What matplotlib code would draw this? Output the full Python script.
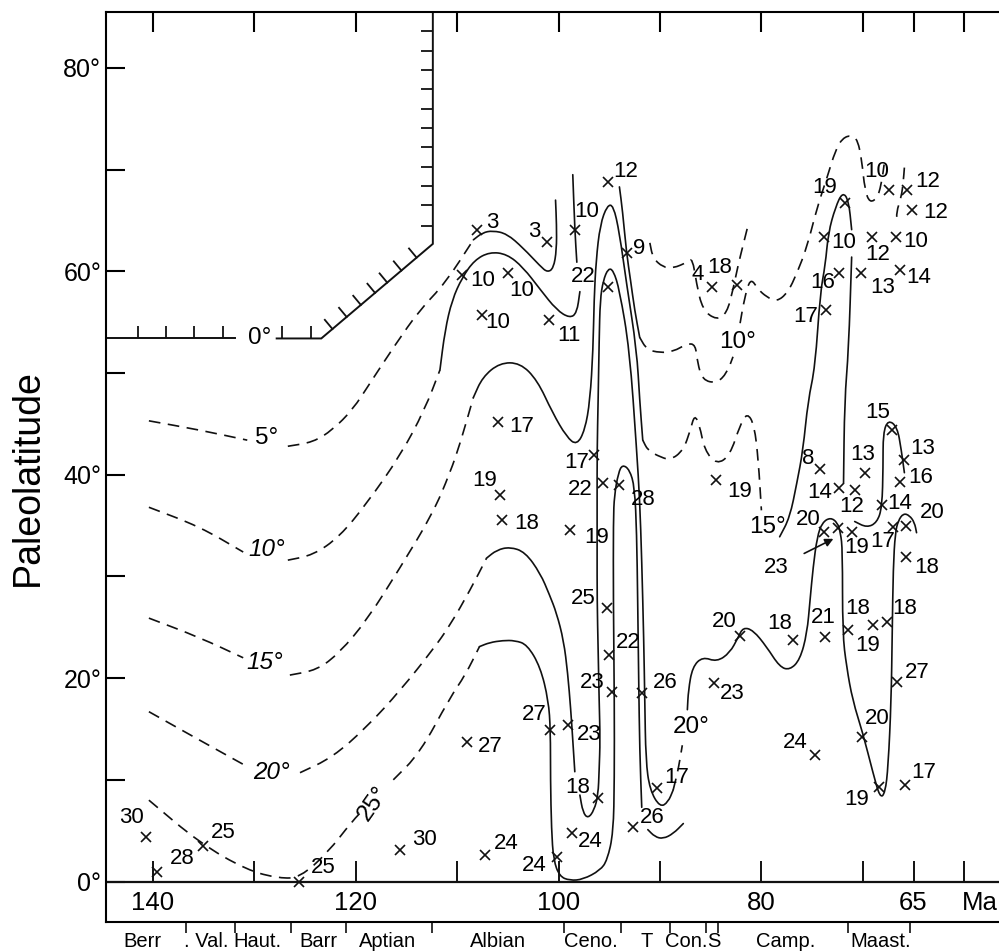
import matplotlib
matplotlib.use('Agg')
import matplotlib.pyplot as plt
from matplotlib.path import Path
from matplotlib.patches import PathPatch
import numpy as np

plt.rcParams['font.family'] = ['Liberation Sans', 'DejaVu Sans']

# axis ranges (Ma on x, reversed; paleolatitude on y)
ma_range = (144.63, 56.57)
lat_range = (-3.98, 85.47)

x_ticks = [140, 130, 120, 110, 100, 90, 80, 70, 65, 60]
x_labels = [140, 120, 100, 80, 65]
y_major = [0, 20, 40, 60, 80]
y_minor = [10, 30, 50, 70]

# stages (boundaries in Ma, label centres in Ma)
stage_bounds = [136.7, 131.9, 126.4, 121.0, 112.5, 99.5, 93.8, 89.0, 85.5, 84.3, 71.5, 65.3]
stage_names = ['Berr', '. Val.', 'Haut.', 'Barr', 'Aptian', 'Albian', 'Ceno.', 'T', 'Con.', 'S', 'Camp.', 'Maast.']
stage_pos = [141.0, 134.7, 129.7, 123.7, 116.9, 106.0, 96.8, 91.3, 87.4, 84.7, 77.6, 68.2]

# localities: age (Ma), paleolatitude, temperature label
pts_ma = [140.7, 139.6, 135.1, 125.6, 115.6, 109.0, 107.3, 100.2, 98.7, 100.8, 99.1, 96.1, 92.7, 90.3,
          105.8, 105.6, 96.5, 95.6, 94.0, 98.9, 95.2, 95.0, 94.7, 91.8, 82.1, 84.7,
          74.2, 69.8, 72.3, 70.8, 67.1, 65.9, 66.3, 68.1, 65.7, 67.0, 71.1, 73.8, 72.4, 65.7,
          84.5, 76.9, 73.7, 71.5, 69.0, 67.6, 66.6, 70.1, 74.7, 68.4, 65.8,
          71.8, 67.4, 65.6, 65.1, 73.8, 69.1, 66.7, 72.3, 70.2, 66.3, 73.6, 82.4, 84.9,
          108.0, 101.1, 98.4, 95.1, 93.3, 109.5, 105.0, 107.6, 100.9, 95.1, 106.0]
pts_lat = [4.4, 0.9, 3.5, -0.05, 3.1, 13.7, 2.6, 2.4, 4.8, 14.9, 15.4, 8.2, 5.4, 9.2,
           38.0, 35.5, 41.9, 39.2, 39.0, 34.6, 26.9, 22.3, 18.6, 18.5, 24.1, 19.5,
           40.6, 40.2, 38.7, 38.5, 44.4, 41.4, 39.3, 37.0, 35.0, 34.9, 34.4, 34.4, 34.8, 31.9,
           39.5, 23.7, 24.0, 24.7, 25.2, 25.5, 19.6, 14.2, 12.4, 9.3, 9.5,
           66.7, 68.0, 68.0, 66.0, 63.4, 63.4, 63.4, 59.8, 59.8, 60.1, 56.2, 58.7, 58.5,
           64.1, 62.9, 64.1, 68.8, 61.8, 59.6, 59.8, 55.7, 55.2, 58.5, 45.2]
pts_val = ['30', '28', '25', '25', '30', '27', '24', '24', '24', '27', '23', '18', '26', '17',
           '19', '18', '17', '22', '28', '19', '25', '22', '23', '26', '20', '23',
           '8', '13', '14', '12', '15', '13', '16', '14', '20', '17', '19', '20', '', '18',
           '19', '18', '21', '18', '19', '18', '27', '20', '24', '19', '17',
           '19', '10', '12', '12', '10', '12', '10', '16', '13', '14', '17', '18', '4',
           '3', '3', '10', '12', '9', '10', '10', '10', '11', '22', '17']
# where each number sits relative to its cross (pixels, right / down)
label_offsets = [(-14, -19), (25, -14), (21, -13), (24, -15), (24, -10), (23, 4), (22, -12), (-22, 8),
                 (18, 9), (-16, -15), (22, 10), (-20, -11), (20, -9), (20, -10),
                 (-15, -15), (25, 3), (-17, 7), (-23, 7), (24, 15), (27, 8), (-24, -9), (19, -12),
                 (-20, -10), (24, -11), (-16, -15), (19, 10),
                 (-12, -10), (-2, -18), (-20, 5), (-3, 17), (-15, -17), (18, -12), (20, -4), (18, -2),
                 (26, -13), (-11, 15), (5, 16), (-16, -12), (0, 0), (20, 10),
                 (24, 12), (-13, -17), (-2, -20), (10, -22), (-5, 20), (18, -14), (20, -10), (15, -19),
                 (-20, -13), (-22, 13), (18, -12),
                 (-20, -16), (-12, -18), (20, -8), (23, 2), (19, 6), (6, 18), (19, 5), (-17, 9),
                 (22, 14), (18, 7), (-21, 7), (-17, -17), (-14, -12),
                 (15, -7), (-13, -10), (12, -18), (17, -10), (13, -5), (20, 5), (14, 17), (16, 7),
                 (19, 15), (-25, -10), (24, 5)]

# isotherms, (Ma, lat) vertices
iso5_dash_a = [(140.4, 45.3), (135.4, 44.4), (130.7, 43.4)]
iso5_dash_b = [(126.7, 42.8), (124.2, 43.2), (122.3, 44.4), (120.3, 46.4), (118.6, 49.0), (116.1, 52.8),
               (113.7, 56.2), (111.2, 58.8), (108.4, 63.1)]
iso5_solid = [(108.4, 63.1), (107.5, 63.8), (106.5, 64.0), (105.1, 63.7), (103.5, 62.3), (101.8, 60.5),
              (101.1, 59.9), (100.5, 60.3), (100.2, 62.1), (100.2, 64.6), (100.3, 67.0)]

iso10_dash_a = [(140.4, 36.8), (135.4, 34.9), (131.1, 32.4)]
iso10_dash_b = [(126.7, 31.6), (124.2, 32.1), (121.6, 33.9), (118.9, 37.2), (115.6, 41.9), (113.2, 46.4),
                (111.7, 50.3)]
iso10_solid = [(111.7, 50.3), (111.2, 54.2), (110.5, 57.2), (109.5, 59.4), (108.3, 61.1), (106.8, 61.9),
               (105.1, 61.7), (103.5, 60.4), (101.8, 58.2), (100.2, 56.2), (98.9, 55.4), (98.2, 55.9),
               (97.9, 58.0)]
iso10_solid_b = [(98.2, 60.9), (98.4, 64.1), (98.6, 69.5)]
iso10_solid_c = [(94.0, 68.3), (93.7, 66.0), (93.3, 61.8), (92.9, 59.1), (92.5, 56.2), (92.0, 53.5)]
iso10_dash_c = [(92.0, 53.5), (91.3, 52.3), (90.0, 52.0), (88.7, 52.1), (87.3, 52.9), (86.5, 52.8),
                (86.3, 51.0), (85.8, 49.3), (84.4, 49.0), (83.4, 50.0), (82.8, 51.6)]
iso10_dash_d = [(82.1, 54.9), (81.7, 57.2), (81.1, 59.4), (80.3, 58.2), (79.5, 57.5), (78.5, 57.0),
                (77.4, 57.9), (76.5, 59.8), (75.5, 62.4), (74.5, 66.3), (73.5, 69.3), (72.7, 71.9),
                (72.0, 73.1), (71.1, 73.4), (70.5, 72.9), (70.1, 70.9), (69.8, 68.0), (69.3, 66.7),
                (68.5, 67.3), (68.1, 69.0), (67.9, 70.5)]
iso10_dash_e = [(65.9, 70.2), (66.0, 68.9), (66.2, 67.3), (66.7, 65.8), (66.6, 64.8)]
iso5_dash_c = [(91.0, 62.8), (90.7, 61.3), (89.7, 60.4), (88.7, 60.3), (87.3, 60.9), (86.8, 61.3),
               (86.4, 58.8), (85.8, 56.2), (84.4, 55.2), (83.4, 55.9), (82.8, 58.2), (82.3, 60.6),
               (81.8, 62.6), (81.3, 64.6)]

iso15_dash_a = [(140.4, 25.9), (135.4, 24.0), (131.1, 22.0)]
iso15_dash_b = [(126.5, 20.3), (123.8, 20.8), (121.6, 22.5), (118.9, 25.7), (115.6, 30.9), (112.4, 36.2),
                (110.7, 40.2), (109.7, 43.1), (108.4, 47.6)]
iso15_solid = [(108.4, 47.6), (107.5, 49.6), (105.8, 51.0), (103.8, 51.0), (102.1, 49.3), (100.6, 46.1),
               (99.2, 43.7), (98.2, 42.9), (97.4, 44.4), (96.9, 47.3), (96.6, 52.3), (96.5, 57.2),
               (96.3, 61.1), (95.9, 64.6), (95.2, 66.5), (94.6, 66.5), (94.0, 63.8), (93.3, 58.8),
               (92.3, 52.3), (92.0, 47.3), (91.7, 43.4)]
iso15_dash_c = [(91.7, 43.4), (91.2, 42.4), (90.3, 41.9), (89.0, 41.4), (87.7, 42.4), (87.0, 44.4),
                (86.6, 45.9), (86.1, 44.9), (85.6, 42.4), (84.4, 41.0), (83.1, 41.9), (82.1, 44.9),
                (81.4, 46.1), (80.7, 44.9), (80.3, 41.4), (80.0, 36.5)]
iso15_solid_c = [(78.2, 33.9), (77.2, 35.8), (76.5, 39.2), (75.9, 42.4), (75.4, 47.3), (74.7, 50.6),
                 (74.2, 57.9), (73.7, 60.6), (73.4, 63.8), (72.7, 66.3), (72.0, 67.8), (71.4, 67.0),
                 (71.1, 64.1)]
iso15_solid_d = [(71.1, 61.4), (71.4, 52.3), (71.8, 47.3), (71.9, 39.2)]
iso15_solid_e = [(70.8, 35.4), (69.6, 34.8), (68.6, 35.3), (68.1, 36.8), (68.0, 40.8), (68.0, 44.1),
                 (67.5, 45.4), (66.6, 44.7), (66.2, 42.4), (65.9, 40.2)]

iso20_dash_a = [(140.4, 16.7), (135.4, 13.9), (130.7, 11.3)]
iso20_dash_b = [(125.5, 10.7), (122.3, 12.2), (118.9, 15.2), (115.6, 18.8), (112.4, 22.8), (110.7, 25.2),
                (108.7, 28.7), (107.1, 31.8)]
iso20_solid = [(107.1, 31.8), (106.1, 32.6), (104.8, 32.9), (103.3, 32.4), (101.8, 30.3), (100.9, 28.2),
               (100.2, 26.4), (99.5, 23.7), (99.1, 20.5), (98.8, 16.9), (98.6, 13.9), (98.4, 10.8)]
iso20_solid_b = [(97.9, 8.5), (97.6, 6.8), (97.1, 6.2), (96.5, 7.0), (96.1, 8.5), (96.0, 11.0), (95.9, 13.9),
                 (96.0, 17.8), (96.1, 22.8), (96.2, 27.7), (96.2, 32.6), (96.2, 37.5), (96.2, 42.4),
                 (96.1, 47.3), (96.0, 53.2), (95.9, 57.2), (95.6, 59.1), (95.1, 60.3), (94.6, 60.1),
                 (94.0, 58.2), (93.0, 52.3), (92.3, 42.4), (92.0, 37.5), (91.8, 31.6), (91.6, 23.7),
                 (91.5, 17.8), (91.4, 11.9), (91.0, 9.0), (90.0, 7.3), (89.2, 7.8), (88.7, 9.0)]
iso20_dash_c = [(88.7, 9.0), (88.2, 11.0), (87.8, 13.4)]
iso20_solid_c = [(87.3, 16.9), (87.2, 18.8), (86.8, 21.1), (85.8, 22.1), (84.4, 21.6), (83.1, 22.5),
                 (82.3, 24.0), (81.8, 25.0), (80.8, 24.7), (79.5, 23.1), (78.2, 21.1), (77.2, 20.8),
                 (76.2, 21.8), (75.5, 24.4), (75.2, 27.7), (74.9, 30.9), (74.5, 33.9), (74.0, 35.3),
                 (73.2, 35.8), (72.5, 35.3), (72.2, 34.3), (72.0, 32.6), (72.0, 24.4), (71.6, 21.1),
                 (71.0, 17.8), (70.0, 14.6), (69.0, 10.7), (68.3, 8.2), (67.8, 8.7), (67.5, 11.3),
                 (67.2, 17.8), (67.1, 24.4), (67.0, 30.9), (66.8, 34.3), (66.5, 35.5), (66.0, 36.2),
                 (65.4, 36.0), (64.9, 35.3), (64.7, 34.3)]

iso25_dash_a = [(140.4, 8.0), (135.4, 3.8), (130.7, 1.1), (127.5, 0.3), (125.5, 0.4), (122.8, 2.8),
                (120.3, 6.0), (119.1, 7.2)]
iso25_dash_b = [(116.3, 10.0), (113.7, 12.6), (110.7, 18.1), (109.2, 20.3), (107.8, 23.1)]
iso25_solid = [(107.8, 23.1), (106.8, 23.5), (105.5, 23.7), (104.3, 23.7), (103.1, 23.3), (101.8, 21.1),
               (101.0, 17.8), (100.8, 14.9), (100.8, 10.0), (100.7, 5.1), (100.5, 2.1), (99.9, 0.5),
               (98.9, 0.1), (97.6, 0.2), (95.9, 1.1), (95.2, 2.1), (94.6, 4.8), (94.5, 10.0), (94.5, 17.8),
               (94.6, 27.7), (94.6, 35.5), (94.5, 38.0), (94.1, 40.2), (93.7, 41.0), (93.0, 40.5),
               (92.5, 38.8), (92.3, 34.3), (92.2, 27.7), (92.1, 19.8), (92.0, 12.9), (91.8, 7.3)]
iso25_solid_b = [(91.2, 5.1), (90.5, 4.4), (89.7, 4.2), (88.7, 4.7), (87.7, 5.7)]

dashed_lines = [iso5_dash_a, iso5_dash_b, iso5_dash_c, iso10_dash_a, iso10_dash_b, iso10_dash_c,
                iso10_dash_d, iso10_dash_e, iso15_dash_a, iso15_dash_b, iso15_dash_c,
                iso20_dash_a, iso20_dash_b, iso20_dash_c, iso25_dash_a, iso25_dash_b]
solid_lines = [iso5_solid, iso10_solid, iso10_solid_b, iso10_solid_c, iso15_solid, iso15_solid_c,
               iso15_solid_d, iso15_solid_e, iso20_solid, iso20_solid_b, iso20_solid_c,
               iso25_solid, iso25_solid_b]

# isotherm labels: text, Ma, lat, rotation, italic
iso_labels = [('0°', 129.5, 53.4, 0, False), ('5°', 128.8, 43.6, 0, False), ('10°', 128.8, 32.6, 0, True),
              ('15°', 129.0, 21.5, 0, True), ('20°', 128.3, 10.7, 0, True), ('25°', 118.3, 7.7, 55, False),
              ('20°', 86.9, 15.2, 0, False), ('15°', 79.4, 34.9, 0, False), ('10°', 82.4, 53.1, 0, False)]

# inset scale in the upper left corner (Ma, lat)
inset_line = [(144.63, 53.4), (131.9, 53.4)]
inset_line_b = [(127.8, 53.4), (123.4, 53.4), (112.4, 62.7), (112.4, 85.47)]
inset_h_ticks = [141.5, 138.7, 136.0, 133.1, 127.3, 124.4]
inset_v_ticks = [83.6, 81.7, 79.8, 77.9, 76.0, 74.1, 72.2, 70.3, 68.4, 66.5, 64.5]
inset_d_ticks = [122.3, 120.9, 119.5, 118.1, 116.9, 115.5, 114.0]


def smooth_path(seg):
    # quadratic curve through the midpoints, vertices act as control points
    v = np.asarray(seg, float)
    if len(v) < 3:
        return Path(v)
    mids = (v[:-1] + v[1:]) / 2
    verts = [v[0], mids[0]]
    codes = [Path.MOVETO, Path.LINETO]
    for i in range(1, len(v) - 1):
        verts += [v[i], mids[i]]
        codes += [Path.CURVE3, Path.CURVE3]
    verts.append(v[-1])
    codes.append(Path.LINETO)
    return Path(verts, codes)


fig = plt.figure(figsize=(9.99, 9.51), dpi=100)
ax = fig.add_axes([106 / 999, 1 - 922 / 951, 1 - 106 / 999, (922 - 12.3) / 951])
ax.set_xlim(*ma_range)
ax.set_ylim(*lat_range)
for s in ['left', 'top', 'bottom']:
    ax.spines[s].set_linewidth(1.5)
ax.spines['right'].set_visible(False)

# left axis
ax.set_yticks(y_major)
ax.set_yticklabels([f'{v}°' for v in y_major], fontsize=18)
ax.set_yticks(y_minor, minor=True)
ax.tick_params(axis='y', which='both', direction='in', length=13.7, width=1.5, pad=3.5)
# top ticks
ax.xaxis.tick_top()
ax.set_xticks(x_ticks)
ax.set_xticklabels([])
ax.tick_params(axis='x', direction='in', length=14.4, width=1.5)

lw = 1.2
black = '#111111'
# 0 degree base line with upward ticks and labels in the box below
ax.axhline(0, color=black, lw=1.6)
ax.vlines(x_ticks, 0, 1.97, color=black, lw=1.4)
for v in x_labels:
    ax.text(v, -2.1, str(v), ha='center', va='center', fontsize=18.5)
ax.text(58.5, -2.1, 'Ma', ha='center', va='center', fontsize=18.5)

# stage column under the box
ax.vlines(stage_bounds, lat_range[0], -5.07, color=black, lw=1.2, clip_on=False)
for name, pos in zip(stage_names, stage_pos):
    ax.text(pos, -5.85, name, ha='center', va='center', fontsize=14.5, clip_on=False)

# inset scale
for seg in [inset_line, inset_line_b]:
    xs, ys = zip(*seg)
    ax.plot(xs, ys, color=black, lw=1.4, solid_joinstyle='miter')
ax.vlines(inset_h_ticks, 53.4, 54.6, color=black, lw=1.3)
ax.hlines(inset_v_ticks, 112.4, 113.6, color=black, lw=1.3)
d_x0, d_y0, d_x1, d_y1 = 123.4, 53.4, 112.4, 62.7
for t in inset_d_ticks:
    yy = d_y0 + (t - d_x0) / (d_x1 - d_x0) * (d_y1 - d_y0)
    ax.plot([t, t + 0.75], [yy, yy + 0.9], color=black, lw=1.3)

# isotherms
for seg in dashed_lines:
    ax.add_patch(PathPatch(smooth_path(seg), fill=False, color=black, lw=lw,
                           ls=(0, (7, 4.5)), capstyle='butt'))
for seg in solid_lines:
    ax.add_patch(PathPatch(smooth_path(seg), fill=False, color=black, lw=lw,
                           joinstyle='round', capstyle='round'))

for text, m, la, rot, it in iso_labels:
    ax.text(m, la, text, ha='center', va='center', fontsize=17.5, rotation=rot,
            style='italic' if it else 'normal')

# localities
ax.plot(pts_ma, pts_lat, ls='none', marker='x', ms=7.5, mew=1.2, color=black, clip_on=False)
for m, la, val, (dx, dy) in zip(pts_ma, pts_lat, pts_val, label_offsets):
    if val:
        ax.annotate(val, (m, la), xytext=(dx, -dy), textcoords='offset pixels',
                    ha='center', va='center', fontsize=16)

# arrowed label
ax.annotate('23', xy=(72.9, 33.7), xytext=(78.5, 30.9), fontsize=16, ha='center', va='center',
            arrowprops=dict(arrowstyle='-|>', color=black, lw=1.2, shrinkA=10, shrinkB=0,
                            mutation_scale=12))

fig.text(28 / 999, 1 - 478 / 951, 'Paleolatitude', rotation=90, ha='center', va='center', fontsize=27)

fig.savefig('out.png', dpi=100)
